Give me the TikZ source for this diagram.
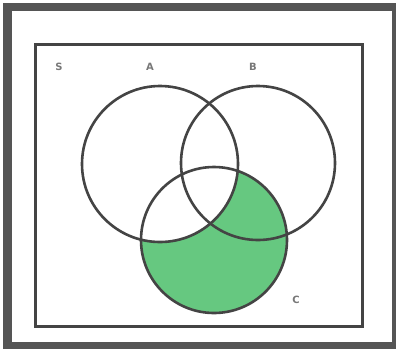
\documentclass[tikz,border=0pt]{standalone}
\usepackage{fontspec}
\setmainfont{DejaVu Sans}
\definecolor{frame}{RGB}{85,85,85}
\definecolor{line}{RGB}{68,68,68}
\definecolor{fillg}{RGB}{102,200,128}
\definecolor{lbl}{RGB}{120,120,120}
\begin{document}
\begin{tikzpicture}[x=1pt,y=-1pt,
  setcirc/.style={draw=line,line width=2.6pt},
  setlbl/.style={text=lbl,font=\bfseries\fontsize{10}{10}\selectfont,inner sep=0pt}]
\useasboundingbox (0,0) rectangle (396,349);
\fill[frame] (3,3) rectangle (396,349);
\fill[white] (12,11) rectangle (392,342);
\coordinate (A) at (160,164);
\coordinate (B) at (258,163);
\coordinate (C) at (214,240);
\begin{scope}
  \clip (C) circle (73);
  \fill[fillg,even odd rule] (A) circle (78) (0,0) rectangle (396,349);
\end{scope}
\draw[setcirc] (A) circle (78);
\draw[setcirc] (B) circle (77);
\draw[setcirc] (C) circle (73);
\draw[draw=line,line width=3pt] (35,44) rectangle (362,326);
\node[setlbl] (s) at (59,67) {S};
\node[setlbl] (a) at (150,67) {A};
\node[setlbl] (b) at (253,67) {B};
\node[setlbl] (c) at (296,300) {C};
\end{tikzpicture}
\end{document}
